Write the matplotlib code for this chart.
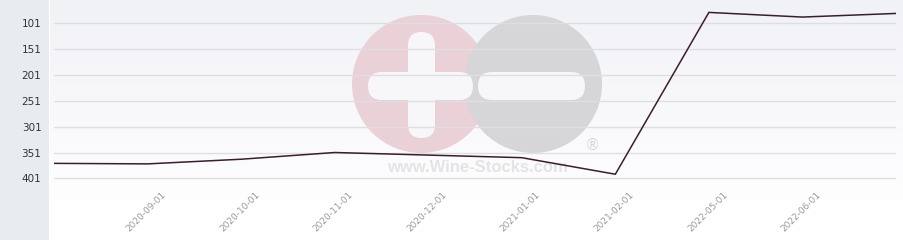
import numpy as np
import matplotlib
matplotlib.use("Agg")
import matplotlib.pyplot as plt
import matplotlib.transforms as mtransforms
from matplotlib.patches import Circle, FancyBboxPatch, Rectangle

# ---- data ----
categories = ["2020-08-01", "2020-09-01", "2020-10-01", "2020-11-01", "2020-12-01",
              "2021-01-01", "2021-02-01", "2022-05-01", "2022-06-01", "2022-07-01"]
ranks = [372, 373, 364, 351, 356, 361, 393, 80, 89, 82]
shown_labels = [False, True, True, True, True, True, True, True, True, False]
y_ticks = [101, 151, 201, 251, 301, 351, 401]

W, H = 904, 240
fig = plt.figure(figsize=(W / 100, H / 100), dpi=100)
fig.patch.set_facecolor("white")

# ---- background layer in pixel coordinates ----
bg = fig.add_axes([0, 0, 1, 1], zorder=0)
bg.set_xlim(0, W)
bg.set_ylim(H, 0)
bg.axis("off")

grad = np.linspace(0, 1, 200)[:, None]
top = np.array([0xf1, 0xf2, 0xf6]) / 255
bot = np.array([0xfe, 0xfe, 0xff]) / 255
img = top[None, None, :] * (1 - grad[..., None]) + bot[None, None, :] * grad[..., None]
img = np.repeat(img, 2, axis=1)
bg.imshow(img, extent=(50, W, 200, 0), aspect="auto", zorder=0, interpolation="bilinear")
bg.add_patch(Rectangle((0, 0), 49, H, color="#e8ecef", zorder=1, lw=0))

# watermark
pink = "#ead0d7"
grey = "#d6d6d9"
bg.add_patch(Circle((421, 84), 69, color=pink, lw=0, zorder=2))
bg.add_patch(Circle((533, 84), 69, color=grey, lw=0, zorder=3))
wm_bg = "#f7f7fa"
bg.add_patch(FancyBboxPatch((408 + 13.5, 32 + 13.5), 0, 106 - 27,
                            boxstyle="round,pad=13.5", color=wm_bg, lw=0, zorder=4))
bg.add_patch(FancyBboxPatch((368 + 14, 72 + 14), 105 - 28, 0,
                            boxstyle="round,pad=14", color=wm_bg, lw=0, zorder=4))
bg.add_patch(FancyBboxPatch((478 + 14, 72 + 14), 107 - 28, 0,
                            boxstyle="round,pad=14", color=wm_bg, lw=0, zorder=4))
bg.text(477, 167, "www.Wine-Stocks.com", ha="center", va="center",
        fontsize=12, fontweight="bold", family="Liberation Sans", color="#e4e4e7", zorder=5)
bg.text(593, 145, "®", ha="center", va="center", fontsize=11,
        family="DejaVu Sans", color="#d8d8db", zorder=5)

# ---- main axes ----
x0, x1 = 54, 896
ytop, ybot = 0, 198
ax = fig.add_axes([x0 / W, 1 - ybot / H, (x1 - x0) / W, (ybot - ytop) / H], zorder=1)
ax.patch.set_alpha(0)
for s in ax.spines.values():
    s.set_visible(False)

x = np.arange(len(categories))
ax.plot(x, ranks, color="#3b1d2b", lw=1.1, zorder=3, solid_joinstyle="miter")
ax.set_xlim(0, len(categories) - 1)
ax.set_ylim(439, 56)
ax.set_yticks(y_ticks)
ax.set_yticklabels([str(v) for v in y_ticks], fontsize=7.5, color="#333333")
ax.tick_params(axis="y", length=0, pad=9)
ax.grid(axis="y", color="#dfdfe3", lw=1)
ax.set_xticks([])

tr = mtransforms.blended_transform_factory(ax.transData, fig.transFigure) + \
    mtransforms.ScaledTranslation(14 / 100, 0, fig.dpi_scale_trans)
for i, (lab, show) in enumerate(zip(categories, shown_labels)):
    if show:
        ax.text(i, 1 - 190 / H, lab, transform=tr, ha="right", va="top",
                rotation=45, rotation_mode="anchor", fontsize=6.5,
                color="#999999", clip_on=False)

fig.savefig("out.png", dpi=100)
